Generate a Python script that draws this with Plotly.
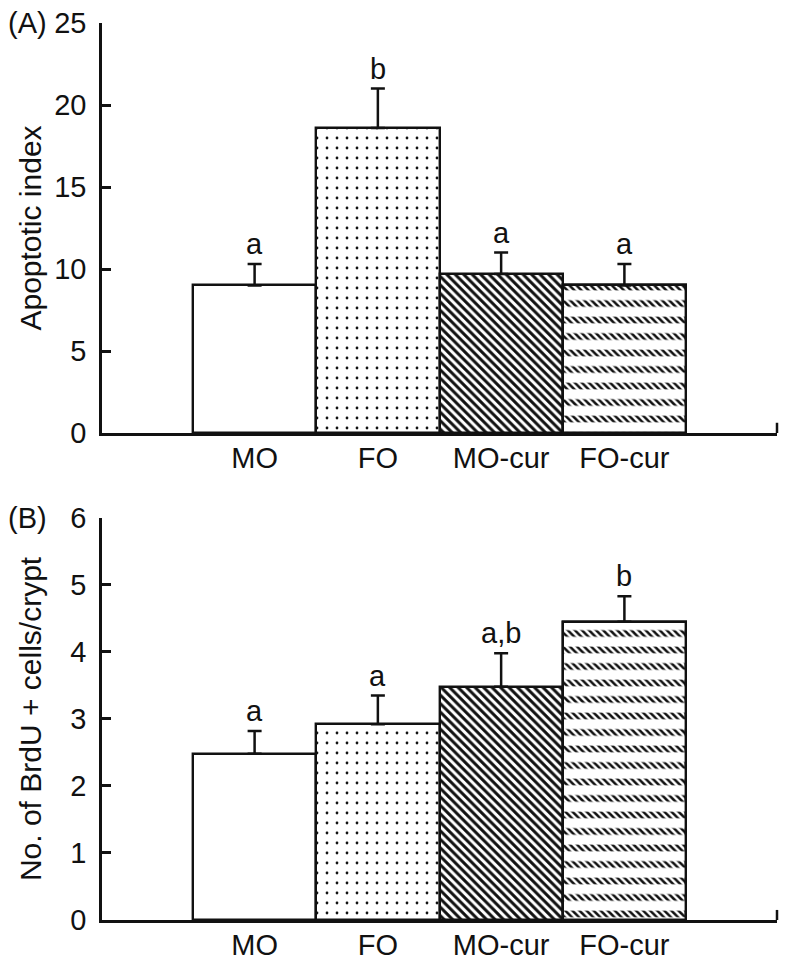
import plotly.graph_objects as go
from plotly.subplots import make_subplots

categories = ["MO", "FO", "MO-cur", "FO-cur"]

apoptotic_mean = [9.0, 18.6, 9.7, 9.0]
apoptotic_err = [1.3, 2.4, 1.3, 1.3]
apoptotic_sig = ["a", "b", "a", "a"]

brdu_mean = [2.48, 2.92, 3.48, 4.45]
brdu_err = [0.34, 0.43, 0.5, 0.38]
brdu_sig = ["a", "a", "a,b", "b"]

y_ticks_a = [0, 5, 10, 15, 20, 25]
y_ticks_b = [0, 1, 2, 3, 4, 5, 6]

FONT = "Liberation Sans, Arial, Helvetica, sans-serif"
BLACK = "#111111"
TXT = 29

pattern_shapes = ["", ".", "\\", "\\"]
pattern_sizes = [8, 10, 6, 5]
pattern_solid = [0.3, 0.06, 0.5, 0.5]

fig = make_subplots(rows=2, cols=1, vertical_spacing=0.0)


def add_panel(row, means, errs, sig):
    fig.add_trace(go.Bar(
        x=categories, y=means,
        marker=dict(color="white",
                    line=dict(color=BLACK, width=2.4),
                    pattern=dict(shape=pattern_shapes, size=pattern_sizes,
                                 solidity=pattern_solid, fgcolor=BLACK,
                                 bgcolor="white")),
        error_y=dict(type="data", array=errs, arrayminus=[0] * len(errs),
                     symmetric=False, color=BLACK, thickness=2.5, width=7),
        showlegend=False, hoverinfo="skip"), row=row, col=1)
    # white horizontal bands over the last bar to form the banded hatch
    fig.add_trace(go.Bar(
        x=categories[3:], y=means[3:],
        marker=dict(color="rgba(0,0,0,0)",
                    line=dict(color=BLACK, width=2.4),
                    pattern=dict(shape="-", size=16.5, solidity=0.6,
                                 fgcolor="white", bgcolor="rgba(0,0,0,0)")),
        showlegend=False, hoverinfo="skip"), row=row, col=1)
    for c, m, e, s in zip(categories, means, errs, sig):
        fig.add_annotation(x=c, y=m + e, text=s, showarrow=False,
                           yanchor="bottom", yshift=2,
                           font=dict(family=FONT, size=TXT, color=BLACK),
                           row=row, col=1)


add_panel(1, apoptotic_mean, apoptotic_err, apoptotic_sig)
add_panel(2, brdu_mean, brdu_err, brdu_sig)

axis_common = dict(showline=True, linecolor=BLACK, linewidth=2.5,
                   showgrid=False, zeroline=False, mirror=False,
                   automargin=False, ticklabeloverflow="allow",
                   tickfont=dict(family=FONT, size=TXT, color=BLACK))

fig.update_xaxes(**axis_common, ticks="", range=[-1.238, 4.238],
                 ticklabelstandoff=-3)
fig.update_yaxes(**axis_common, ticks="inside", ticklen=9, tickwidth=2.5,
                 tickcolor=BLACK, ticklabelstandoff=7)

fig.update_yaxes(range=[0, 25], tickvals=y_ticks_a, domain=[0.5429, 1.0],
                 title=dict(text="Apoptotic index", standoff=4,
                            font=dict(family=FONT, size=30, color=BLACK)),
                 row=1, col=1)
fig.update_yaxes(range=[0, 6], tickvals=y_ticks_b, domain=[0.0, 0.4482],
                 title=dict(text="No. of BrdU + cells/crypt", standoff=20,
                            font=dict(family=FONT, size=30, color=BLACK)),
                 row=2, col=1)

for yref in ["y domain", "y2 domain"]:
    xref = "x domain" if yref == "y domain" else "x2 domain"
    fig.add_shape(type="line", xref=xref, yref=yref, x0=1, x1=1, y0=0,
                  y1=0.025, line=dict(color=BLACK, width=2.5))

fig.add_annotation(xref="paper", yref="y domain", x=-0.142, y=1,
                   xanchor="left", yanchor="middle", text="(A)",
                   showarrow=False,
                   font=dict(family=FONT, size=TXT, color=BLACK))
fig.add_annotation(xref="paper", yref="y2 domain", x=-0.142, y=1,
                   xanchor="left", yanchor="middle", text="(B)",
                   showarrow=False,
                   font=dict(family=FONT, size=TXT, color=BLACK))

# the page body adds an 8 px offset, so the figure is 8 px smaller
fig.update_layout(template="none", width=787, height=959,
                  barmode="overlay", bargap=0,
                  plot_bgcolor="white", paper_bgcolor="white",
                  margin=dict(l=94, r=18, t=15, b=47),
                  font=dict(family=FONT, color=BLACK))

fig.write_html("out.html")
